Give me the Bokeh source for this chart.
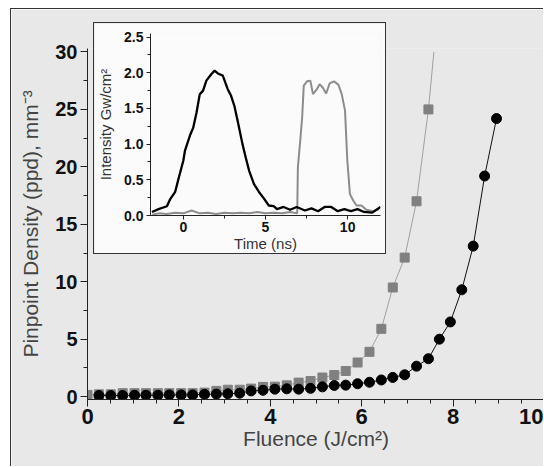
from bokeh.plotting import figure
from bokeh.models import Range1d, FixedTicker, PrintfTickFormatter
from bokeh.embed import file_html
from bokeh.resources import INLINE

# ---- main chart data: fluence (J/cm^2) vs pinpoint density (mm^-3)
fluence_gray = [0.0, 0.25, 0.51, 0.77, 1.03, 1.28, 1.54, 1.79, 2.05, 2.30,
                2.56, 2.82, 3.07, 3.33, 3.58, 3.84, 4.10, 4.36, 4.62, 4.88,
                5.14, 5.40, 5.65, 5.91, 6.17, 6.43, 6.68, 6.94, 7.20, 7.46]
ppd_gray = [0.15, 0.2, 0.2, 0.3, 0.3, 0.3, 0.3, 0.3, 0.3, 0.3,
            0.35, 0.5, 0.6, 0.6, 0.7, 0.85, 0.87, 0.98, 1.22, 1.36,
            1.66, 1.88, 2.23, 2.97, 3.9, 5.9, 9.5, 12.1, 17.0, 25.0]
# continuation of the fitted curve through the gray series
fit_gray_x = [7.46, 7.58]
fit_gray_y = [25.0, 30.0]

fluence_black = [0.25, 0.51, 0.77, 1.03, 1.28, 1.54, 1.79, 2.05, 2.30, 2.56,
                 2.82, 3.07, 3.33, 3.58, 3.84, 4.10, 4.36, 4.62, 4.88, 5.14,
                 5.40, 5.65, 5.91, 6.17, 6.43, 6.68, 6.94, 7.20, 7.46, 7.70,
                 7.94, 8.19, 8.44, 8.69, 8.95]
ppd_black = [0.1, 0.1, 0.1, 0.12, 0.12, 0.12, 0.15, 0.15, 0.15, 0.2,
             0.22, 0.25, 0.3, 0.5, 0.55, 0.65, 0.68, 0.65, 0.72, 0.85,
             0.97, 1.0, 1.12, 1.25, 1.45, 1.67, 1.9, 2.65, 3.3, 5.0,
             6.5, 9.3, 13.1, 19.2, 24.2]

main_y_ticks = [0, 5, 10, 15, 20, 25, 30]
main_x_ticks = [0, 2, 4, 6, 8, 10]

# ---- inset data: pulse intensity (GW/cm^2) vs time (ns)
time_black = [-1.91, -1.51, -1.0, -0.8, -0.5, -0.3, 0.0, 0.1, 0.4, 0.6,
              0.8, 1.0, 1.2, 1.4, 1.7, 1.9, 2.1, 2.4, 2.7, 2.9,
              3.1, 3.3, 3.6, 3.8, 4.0, 4.3, 4.6, 4.9, 5.2, 5.5,
              5.7, 6.1, 6.5, 6.9, 7.4, 7.8, 8.2, 8.6, 9.0, 9.4,
              9.8, 10.2, 10.6, 11.0, 11.5, 12.0]
int_black = [0.05, 0.09, 0.13, 0.23, 0.33, 0.51, 0.77, 0.91, 1.12, 1.23,
             1.44, 1.70, 1.75, 1.89, 1.98, 2.03, 1.99, 1.96, 1.77, 1.68,
             1.54, 1.33, 1.0, 0.81, 0.63, 0.44, 0.33, 0.24, 0.14, 0.13,
             0.09, 0.12, 0.08, 0.12, 0.07, 0.1, 0.06, 0.12, 0.12, 0.06,
             0.09, 0.06, 0.09, 0.05, 0.04, 0.12]

time_gray = [-1.9, -1.5, -1.0, -0.5, 0.0, 0.5, 1.0, 1.5, 2.0, 2.5,
             3.0, 3.5, 4.0, 4.5, 5.0, 5.5, 6.0, 6.5, 6.93, 6.97,
             7.13, 7.23, 7.33, 7.53, 7.73, 7.89, 8.13, 8.29, 8.49, 8.69,
             8.9, 9.17, 9.44, 9.64, 9.84, 9.98, 10.14, 10.34, 10.54, 10.84,
             11.14, 11.54, 11.9]
int_gray = [0.01, 0.03, 0.02, 0.04, 0.03, 0.07, 0.03, 0.04, 0.02, 0.04,
            0.03, 0.04, 0.03, 0.05, 0.03, 0.04, 0.03, 0.05, 0.03, 0.67,
            1.09, 1.37, 1.82, 1.88, 1.89, 1.70, 1.77, 1.84, 1.79, 1.71,
            1.85, 1.88, 1.83, 1.70, 1.47, 0.77, 0.30, 0.21, 0.14, 0.14,
            0.08, 0.06, 0.09]

inset_x_ticks = [0, 5, 10]
inset_y_ticks = [0.0, 0.5, 1.0, 1.5, 2.0, 2.5]

FONT = "Liberation Sans"
BG = "#e8e8e8"

# ---------------- main figure ----------------
p = figure(width=533, height=458, output_backend="svg", toolbar_location=None,
           x_range=Range1d(0, 10), y_range=Range1d(-0.25, 30.3),
           min_border_left=76, min_border_right=0, min_border_top=39,
           min_border_bottom=68)
p.margin = (8, 0, 0, 10)
p.styles = {"border-top": "1px solid #333", "border-left": "1px solid #333"}
p.background_fill_color = BG
p.border_fill_color = BG
p.outline_line_color = None
p.grid.visible = False

p.line(fluence_gray, ppd_gray, line_color="#a0a0a0", line_width=1)
p.line(fit_gray_x, fit_gray_y, line_color="#a0a0a0", line_width=1)
p.line(fluence_black, ppd_black, line_color="#111111", line_width=1)
p.scatter(fluence_gray, ppd_gray, marker="square", size=9,
          fill_color="#808080", line_color="#808080")
p.scatter(fluence_black, ppd_black, marker="circle", size=10,
          fill_color="#000000", line_color="#000000")

p.xaxis.ticker = FixedTicker(ticks=main_x_ticks,
                             minor_ticks=[i * 0.5 for i in range(21)])
p.yaxis.ticker = FixedTicker(ticks=main_y_ticks,
                             minor_ticks=[i * 2.5 for i in range(13)])
p.xaxis.axis_label = "Fluence (J/cm²)"
p.yaxis.axis_label = "Pinpoint Density (ppd), mm⁻³"
for ax in (p.xaxis, p.yaxis):
    ax.axis_line_color = "#222222"
    ax.major_tick_line_color = "#222222"
    ax.minor_tick_line_color = "#222222"
    ax.major_tick_out = 7
    ax.major_tick_in = 0
    ax.minor_tick_out = 4
    ax.minor_tick_in = 0
    ax.major_label_text_font = FONT
    ax.major_label_text_font_style = "bold"
    ax.major_label_text_color = "#111111"
    ax.axis_label_text_font = FONT
    ax.axis_label_text_font_style = "normal"
    ax.axis_label_text_color = "#444444"
    ax.axis_label_text_font_size = "21px"
p.xaxis.major_label_text_font_size = "22px"
p.yaxis.major_label_text_font_size = "20px"
p.xaxis.major_label_standoff = 2
p.yaxis.major_label_standoff = 3
p.xaxis.axis_label_standoff = 0
p.yaxis.axis_label_standoff = 10

# ---------------- inset figure ----------------
q = figure(width=293, height=232, output_backend="svg", toolbar_location=None,
           x_range=Range1d(-2, 12), y_range=Range1d(0, 2.55),
           min_border_left=54, min_border_right=7, min_border_top=10,
           min_border_bottom=40)
q.styles = {"position": "absolute", "left": "93px", "top": "22px",
            "border": "1px solid #333"}
q.background_fill_color = "#fbfbfb"
q.border_fill_color = "#fbfbfb"
q.outline_line_color = None
q.grid.visible = False

q.line(time_gray, int_gray, line_color="#8c8c8c", line_width=2)
q.line(time_black, int_black, line_color="#000000", line_width=2.3)

q.xaxis.ticker = FixedTicker(ticks=inset_x_ticks, minor_ticks=[-2.5, 2.5, 7.5, 12.5])
q.yaxis.ticker = FixedTicker(ticks=inset_y_ticks,
                             minor_ticks=[i * 0.25 for i in range(11)])
q.yaxis.formatter = PrintfTickFormatter(format="%.1f")
q.xaxis.axis_label = "Time (ns)"
q.yaxis.axis_label = "Intensity Gw/cm²"
for ax in (q.xaxis, q.yaxis):
    ax.axis_line_color = "#222222"
    ax.major_tick_line_color = "#222222"
    ax.minor_tick_line_color = "#222222"
    ax.major_tick_out = 4
    ax.major_tick_in = 0
    ax.minor_tick_out = 3
    ax.minor_tick_in = 0
    ax.major_label_text_font = FONT
    ax.major_label_text_font_style = "bold"
    ax.major_label_text_font_size = "14px"
    ax.major_label_text_color = "#111111"
    ax.axis_label_text_font = FONT
    ax.axis_label_text_font_style = "normal"
    ax.axis_label_text_font_size = "15px"
    ax.axis_label_text_color = "#333333"
q.xaxis.major_label_standoff = 2
q.yaxis.major_label_standoff = 3
q.xaxis.axis_label_standoff = 0
q.yaxis.axis_label_standoff = 7

open("out.html", "w").write(file_html([p, q], INLINE))
